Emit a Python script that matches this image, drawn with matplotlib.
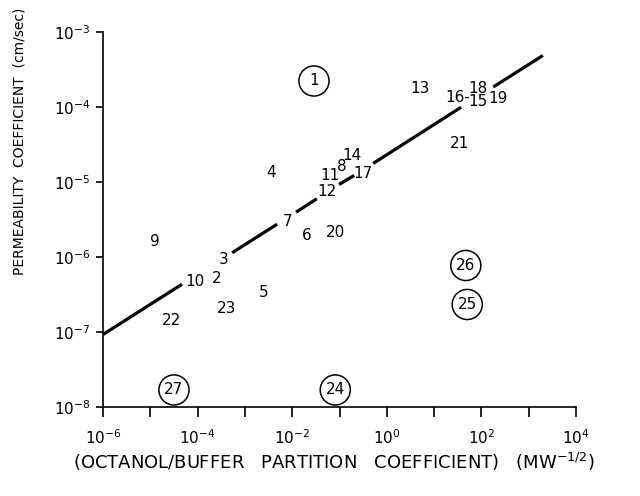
import matplotlib
matplotlib.use("Agg")
import matplotlib.pyplot as plt
import numpy as np

# compound numbers and their positions (log10 values)
labels = ["1", "2", "3", "4", "5", "6", "7", "8", "9", "10", "11", "12", "13", "14",
          "15", "16-", "17", "18", "19", "20", "21", "22", "23", "24", "25", "26", "27"]
log_x = [-1.54, -3.59, -3.44, -2.45, -2.60, -1.69, -2.09, -0.95, -4.90, -4.05, -1.20, -1.26, 0.70, -0.74,
         1.93, 1.51, -0.50, 1.93, 2.35, -1.09, 1.53, -4.56, -3.38, -1.09, 1.70, 1.67, -4.50]
log_y = [-3.65, -6.28, -6.03, -4.87, -6.47, -5.71, -5.53, -4.79, -5.79, -6.32, -4.91, -5.13, -3.75, -4.64,
         -3.93, -3.87, -4.88, -3.75, -3.89, -5.67, -4.48, -6.85, -6.69, -7.77, -6.63, -6.11, -7.77]
circled = ["1", "24", "25", "26", "27"]

# fitted line, drawn in pieces with gaps around the numbers
fit_segments = [
    ([-6.00, -4.33], [-7.03, -6.36]),
    ([-3.27, -2.32], [-5.94, -5.56]),
    ([-1.92, -1.48], [-5.40, -5.22]),
    ([-1.01, -0.69], [-5.03, -4.91]),
    ([-0.29, 1.57], [-4.75, -4.00]),
    ([2.25, 3.30], [-3.73, -3.31]),
]

x_ticks = [10.0 ** k for k in range(-6, 5)]
x_ticklabels = [r"$10^{%d}$" % k if k % 2 == 0 else "" for k in range(-6, 5)]
y_ticks = [10.0 ** k for k in range(-8, -2)]
y_ticklabels = [r"$10^{%d}$" % k for k in range(-8, -2)]

fig = plt.figure(figsize=(6.4, 4.96), dpi=100)
ax = fig.add_axes([0.161, 0.179, 0.739, 0.756])
ax.set_xscale("log")
ax.set_yscale("log")
ax.set_xlim(1e-6, 1e4)
ax.set_ylim(1e-8, 1e-3)

for sx, sy in fit_segments:
    ax.plot(10.0 ** np.array(sx), 10.0 ** np.array(sy), color="black", lw=2.3,
            solid_capstyle="butt")

xs = 10.0 ** np.array(log_x)
ys = 10.0 ** np.array(log_y)
for lab, x, y in zip(labels, xs, ys):
    ax.text(x, y, lab, ha="center", va="center", fontsize=11)
    if lab in circled:
        ax.scatter([x], [y], s=470, facecolors="none", edgecolors="black", linewidths=1.1)

for side in ["top", "right"]:
    ax.spines[side].set_visible(False)
for side in ["left", "bottom"]:
    ax.spines[side].set_linewidth(1.2)

ax.set_xticks(x_ticks)
ax.set_xticklabels(x_ticklabels)
ax.set_yticks(y_ticks)
ax.set_yticklabels(y_ticklabels)
ax.minorticks_off()
ax.tick_params(axis="x", direction="out", length=7, width=1.2, labelsize=11, pad=8)
ax.tick_params(axis="y", direction="out", length=5, width=1.2, labelsize=11, pad=4)

fig.text(0.522, 0.068, r"(OCTANOL/BUFFER   PARTITION   COEFFICIENT)   (MW$^{-1/2}$)",
         ha="center", va="center", fontsize=13)
fig.text(0.031, 0.716, "PERMEABILITY  COEFFICIENT  (cm/sec)", rotation=90,
         ha="center", va="center", fontsize=10)

fig.savefig("out.png", dpi=100)
